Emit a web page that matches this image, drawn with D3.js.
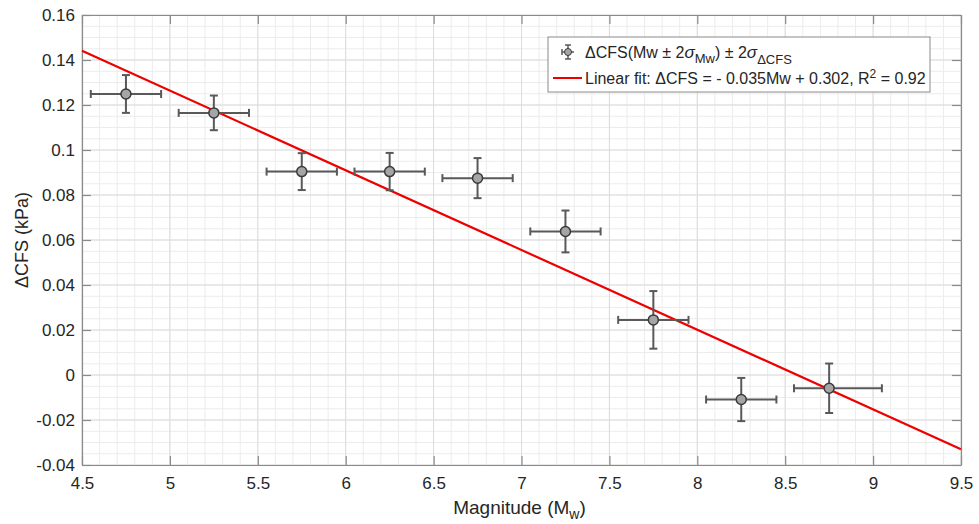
<!DOCTYPE html>
<html>
<head>
<meta charset="utf-8">
<script src="https://cdn.jsdelivr.net/npm/d3@7"></script>
<style>
  body { margin: 0; background: #fff; }
  text { font-family: "Liberation Sans", Arial, sans-serif; fill: #262626; }
</style>
</head>
<body>
<div id="chart"></div>
<script>
// data
var magnitudes = [4.75, 5.25, 5.75, 6.25, 6.75, 7.25, 7.75, 8.25, 8.75];
var dcfs = [0.1249, 0.1165, 0.0904, 0.0904, 0.0875, 0.0638, 0.0245, -0.0109, -0.0059];
var dcfsErr = [0.0084, 0.0077, 0.0082, 0.0083, 0.0089, 0.0093, 0.0128, 0.0096, 0.0110];
var magErrLow = [0.2, 0.2, 0.2, 0.2, 0.2, 0.2, 0.2, 0.2, 0.2];
var magErrHigh = [0.2, 0.2, 0.2, 0.2, 0.2, 0.2, 0.2, 0.2, 0.3];
var fitSlope = -0.03542;
var fitIntercept = 0.3035;
var xTicks = [4.5, 5, 5.5, 6, 6.5, 7, 7.5, 8, 8.5, 9, 9.5];
var yTicks = [-0.04, -0.02, 0, 0.02, 0.04, 0.06, 0.08, 0.1, 0.12, 0.14, 0.16];

var width = 979, height = 524;
var margin = { top: 15, right: 18, bottom: 59, left: 82 };
var w = width - margin.left - margin.right,
    h = height - margin.top - margin.bottom;

var svg = d3.select('#chart')
    .append('svg')
    .attr('width', width)
    .attr('height', height);

var g = svg.append('g')
    .attr('transform', 'translate(' + margin.left + ',' + margin.top + ')');

var x = d3.scaleLinear().domain([4.5, 9.5]).range([0, w]);
var y = d3.scaleLinear().domain([-0.04, 0.16]).range([h, 0]);

// minor grid
var xMinor = d3.range(45, 96, 1).map(function (d) { return d / 10; });
var yMinor = d3.range(-8, 33, 1).map(function (d) { return d * 0.005; });
g.selectAll('.xminor').data(xMinor).join('line')
    .attr('x1', function (d) { return x(d); }).attr('x2', function (d) { return x(d); })
    .attr('y1', 0).attr('y2', h)
    .attr('stroke', '#ececec').attr('stroke-width', 1);
g.selectAll('.yminor').data(yMinor).join('line')
    .attr('y1', function (d) { return y(d); }).attr('y2', function (d) { return y(d); })
    .attr('x1', 0).attr('x2', w)
    .attr('stroke', '#ececec').attr('stroke-width', 1);

// major grid
g.selectAll('.xmajor').data(xTicks).join('line')
    .attr('x1', function (d) { return x(d); }).attr('x2', function (d) { return x(d); })
    .attr('y1', 0).attr('y2', h)
    .attr('stroke', '#dcdcdc').attr('stroke-width', 1);
g.selectAll('.ymajor').data(yTicks).join('line')
    .attr('y1', function (d) { return y(d); }).attr('y2', function (d) { return y(d); })
    .attr('x1', 0).attr('x2', w)
    .attr('stroke', '#dcdcdc').attr('stroke-width', 1);

// axes (box with inward ticks)
function styleAxis(sel) {
    sel.selectAll('path').attr('stroke', '#8a8a8a').attr('stroke-width', 1.2);
    sel.selectAll('line').attr('stroke', '#8a8a8a').attr('stroke-width', 1.2);
    sel.selectAll('text').style('font-size', '17px').attr('fill', '#262626')
        .style('font-family', '"Liberation Sans", Arial, sans-serif');
}
// plain hyphen for negatives, like the original
var fmt = function (d) { return String(+d.toFixed(2)); };

g.append('g')
    .attr('transform', 'translate(0,' + h + ')')
    .call(d3.axisBottom(x).tickValues(xTicks).tickSize(-9).tickSizeOuter(0).tickPadding(12).tickFormat(fmt))
    .call(styleAxis);
g.append('g')
    .call(d3.axisTop(x).tickValues(xTicks).tickSize(-9).tickSizeOuter(0).tickFormat(''))
    .call(styleAxis);
g.append('g')
    .call(d3.axisLeft(y).tickValues(yTicks).tickSize(-9).tickSizeOuter(0).tickPadding(7).tickFormat(fmt))
    .call(styleAxis);
g.append('g')
    .attr('transform', 'translate(' + w + ',0)')
    .call(d3.axisRight(y).tickValues(yTicks).tickSize(-9).tickSizeOuter(0).tickFormat(''))
    .call(styleAxis);

// fit line
var fitX = [4.5, 9.5];
g.append('line')
    .attr('x1', x(fitX[0])).attr('y1', y(fitSlope * fitX[0] + fitIntercept))
    .attr('x2', x(fitX[1])).attr('y2', y(fitSlope * fitX[1] + fitIntercept))
    .attr('stroke', '#ee0000').attr('stroke-width', 2.2);

// error bars
var pts = magnitudes.map(function (m, i) {
    return { m: m, v: dcfs[i], e: dcfsErr[i], lo: magErrLow[i], hi: magErrHigh[i] };
});
var errColor = '#595959', cap = 4;
var eb = g.selectAll('.pt').data(pts).join('g');
eb.append('line')
    .attr('x1', function (d) { return x(d.m - d.lo); }).attr('x2', function (d) { return x(d.m + d.hi); })
    .attr('y1', function (d) { return y(d.v); }).attr('y2', function (d) { return y(d.v); })
    .attr('stroke', errColor).attr('stroke-width', 2);
eb.append('line')
    .attr('x1', function (d) { return x(d.m); }).attr('x2', function (d) { return x(d.m); })
    .attr('y1', function (d) { return y(d.v - d.e); }).attr('y2', function (d) { return y(d.v + d.e); })
    .attr('stroke', errColor).attr('stroke-width', 2);
// caps
[['lo', -1], ['hi', 1]].forEach(function (c) {
    eb.append('line')
        .attr('x1', function (d) { return x(d.m + c[1] * d[c[0]]); })
        .attr('x2', function (d) { return x(d.m + c[1] * d[c[0]]); })
        .attr('y1', function (d) { return y(d.v) - cap; }).attr('y2', function (d) { return y(d.v) + cap; })
        .attr('stroke', errColor).attr('stroke-width', 2);
});
[-1, 1].forEach(function (s) {
    eb.append('line')
        .attr('x1', function (d) { return x(d.m) - cap; }).attr('x2', function (d) { return x(d.m) + cap; })
        .attr('y1', function (d) { return y(d.v + s * d.e); }).attr('y2', function (d) { return y(d.v + s * d.e); })
        .attr('stroke', errColor).attr('stroke-width', 2);
});
eb.append('circle')
    .attr('cx', function (d) { return x(d.m); })
    .attr('cy', function (d) { return y(d.v); })
    .attr('r', 5)
    .attr('fill', '#a5a5a5')
    .attr('stroke', '#3a3a3a').attr('stroke-width', 1.5);

// legend
var lg = svg.append('g').attr('transform', 'translate(548,37)');
lg.append('rect').attr('width', 382).attr('height', 55)
    .attr('fill', '#fff').attr('stroke', '#8a8a8a').attr('stroke-width', 1);
var ix = 20, iy = 15;
lg.append('line').attr('x1', ix - 6).attr('x2', ix + 6).attr('y1', iy).attr('y2', iy).attr('stroke', errColor).attr('stroke-width', 1.5);
lg.append('line').attr('x1', ix).attr('x2', ix).attr('y1', iy - 7).attr('y2', iy + 7).attr('stroke', errColor).attr('stroke-width', 1.5);
lg.append('line').attr('x1', ix - 6).attr('x2', ix - 6).attr('y1', iy - 3).attr('y2', iy + 3).attr('stroke', errColor).attr('stroke-width', 1.5);
lg.append('line').attr('x1', ix - 3).attr('x2', ix + 3).attr('y1', iy - 7).attr('y2', iy - 7).attr('stroke', errColor).attr('stroke-width', 1.5);
lg.append('line').attr('x1', ix - 3).attr('x2', ix + 3).attr('y1', iy + 7).attr('y2', iy + 7).attr('stroke', errColor).attr('stroke-width', 1.5);
lg.append('circle').attr('cx', ix).attr('cy', iy).attr('r', 3.5)
    .attr('fill', '#a5a5a5').attr('stroke', '#3a3a3a').attr('stroke-width', 1);

var t1 = lg.append('text').attr('x', 37).attr('y', 21).style('font-size', '16px');
t1.append('tspan').text('\u0394CFS(Mw \u00b1 2');
t1.append('tspan').style('font-style', 'italic').style('font-size', '17px').text('\u03c3');
t1.append('tspan').attr('dy', 5).style('font-size', '13px').text('Mw');
t1.append('tspan').attr('dy', -5).text(') \u00b1 2');
t1.append('tspan').style('font-style', 'italic').style('font-size', '17px').text('\u03c3');
t1.append('tspan').attr('dy', 6).style('font-size', '13px').text('\u0394CFS');

lg.append('line').attr('x1', 5).attr('x2', 34).attr('y1', 41).attr('y2', 41)
    .attr('stroke', '#ee0000').attr('stroke-width', 2);
var t2 = lg.append('text').attr('x', 37).attr('y', 47).style('font-size', '16px');
t2.append('tspan').text('Linear fit: \u0394CFS = - 0.035Mw + 0.302, R');
t2.append('tspan').attr('dy', -6).style('font-size', '12px').text('2');
t2.append('tspan').attr('dy', 6).text(' = 0.92');

// axis labels
var xl = svg.append('text')
    .attr('x', margin.left + w / 2 - 2).attr('y', 514)
    .attr('text-anchor', 'middle').style('font-size', '19px');
xl.append('tspan').text('Magnitude (M');
xl.append('tspan').attr('dy', 5).style('font-size', '14px').text('w');
xl.append('tspan').attr('dy', -5).text(')');

svg.append('text')
    .attr('transform', 'translate(28,' + (margin.top + h / 2) + ') rotate(-90)')
    .attr('text-anchor', 'middle').style('font-size', '18px')
    .text('\u0394CFS (kPa)');
</script>
</body>
</html>
